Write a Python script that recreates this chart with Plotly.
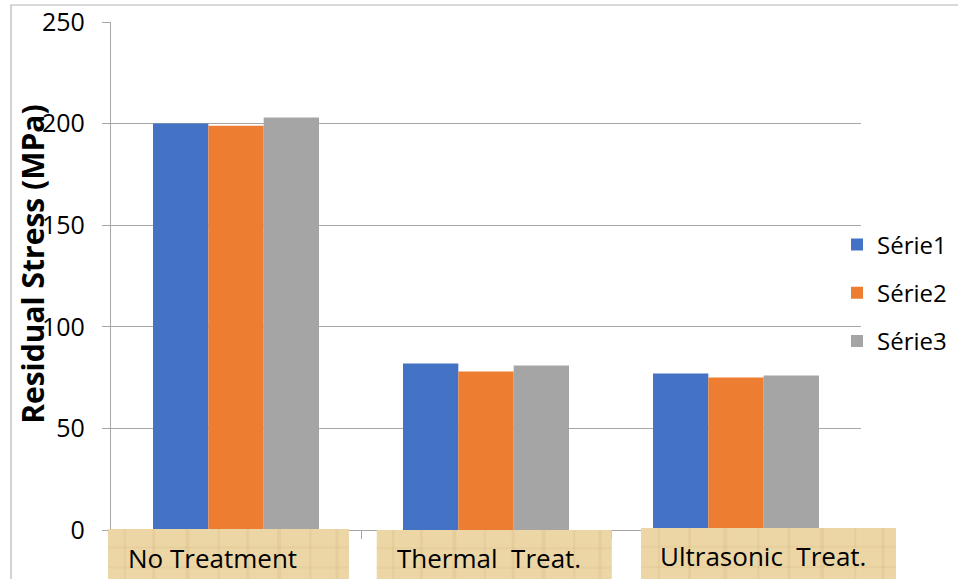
import plotly.graph_objects as go

categories = ["No Treatment", "Thermal  Treat.", "Ultrasonic  Treat."]
series_names = ["Série1", "Série2", "Série3"]
serie1 = [200, 82, 77]
serie2 = [199, 78, 75]
serie3 = [203, 81, 76]
series_values = [serie1, serie2, serie3]
colors = ["#4472C4", "#ED7D31", "#A5A5A5"]
y_ticks = [0, 50, 100, 150, 200, 250]

FONT = "Open Sans"
fig = go.Figure()
for i, (name, vals) in enumerate(zip(series_names, series_values)):
    fig.add_trace(go.Bar(
        x=categories, y=vals, name=name, legendgroup=name,
        marker=dict(color=colors[i], line=dict(width=0)),
    ))

# label boxes (paper coordinates), papyrus-like fill
boxes = [(-0.004, 0.3173, 0.002), (0.3543, 0.6677, 0.0), (0.7067, 1.0467, 0.004)]
label_x = [0.1347, 0.504, 0.8693]
label_y = [-0.0551, -0.0551, -0.0512]
shapes = []
for (x0, x1, ytop) in boxes:
    shapes.append(dict(type="rect", xref="paper", yref="paper", x0=x0, x1=x1,
                       y0=-0.12, y1=ytop, fillcolor="#ECD6A6",
                       line=dict(width=0), layer="above"))
    # subtle fibre texture
    w = x1 - x0
    for k, f in enumerate([0.07, 0.19, 0.33, 0.46, 0.58, 0.71, 0.84, 0.95]):
        shapes.append(dict(type="line", xref="paper", yref="paper",
                           x0=x0 + f * w, x1=x0 + f * w, y0=-0.12, y1=ytop,
                           line=dict(color="rgba(190,150,90,0.12)", width=2 + (k % 3)),
                           layer="above"))
    for f in [0.3, 0.62]:
        yy = ytop - f * (ytop + 0.12)
        shapes.append(dict(type="line", xref="paper", yref="paper",
                           x0=x0, x1=x1, y0=yy, y1=yy,
                           line=dict(color="rgba(190,150,90,0.10)", width=2),
                           layer="above"))
# outer chart border
shapes.append(dict(type="rect", xref="paper", yref="paper", x0=-0.1333, x1=1.3,
                   y0=-0.3, y1=1.0335, line=dict(color="#b4b4b4", width=1.2),
                   fillcolor="rgba(0,0,0,0)", layer="below"))

annotations = []
for cat, lx, ly in zip(categories, label_x, label_y):
    annotations.append(dict(text=cat, xref="paper", yref="paper", x=lx, y=ly,
                            xanchor="center", yanchor="middle", showarrow=False,
                            font=dict(family=FONT, size=26, color="#000000")))
annotations.append(dict(text="<b>Residual Stress (MPa)</b>", xref="paper", yref="paper",
                        x=-0.104, y=0.522, textangle=-90, showarrow=False,
                        xanchor="center", yanchor="middle",
                        font=dict(family=FONT, size=30, color="#000000")))

fig.update_layout(
    width=958, height=579,
    margin=dict(l=111, r=97, t=22, b=49, autoexpand=False),
    paper_bgcolor="white", plot_bgcolor="white",
    barmode="group", bargap=0.336, bargroupgap=0,
    font=dict(family=FONT, color="#000000"),
    showlegend=True,
    legend=dict(x=0.968, xanchor="left", y=0.4665, yanchor="middle",
                font=dict(family=FONT, size=24, color="#000000"),
                bgcolor="rgba(0,0,0,0)", tracegroupgap=14, traceorder="grouped"),
    shapes=shapes, annotations=annotations,
)
fig.update_xaxes(showline=True, linecolor="#a6a6a6", linewidth=1.2, automargin=False,
                 ticks="outside", tickson="boundaries", ticklen=8, tickcolor="#a6a6a6",
                 showticklabels=False, showgrid=False)
fig.update_yaxes(range=[0, 250], tickvals=y_ticks, showline=True, linecolor="#a6a6a6",
                 linewidth=1.2, showgrid=True, gridcolor="#a6a6a6", gridwidth=1.2,
                 ticks="outside", ticklen=8, tickcolor="#a6a6a6", zeroline=False,
                 ticklabelstandoff=12, automargin=False,
                 tickfont=dict(family=FONT, size=25, color="#000000"))

fig.write_html("out.html", config={"displayModeBar": False},
               post_script="document.body.style.margin='0';document.body.style.overflow='hidden';")
